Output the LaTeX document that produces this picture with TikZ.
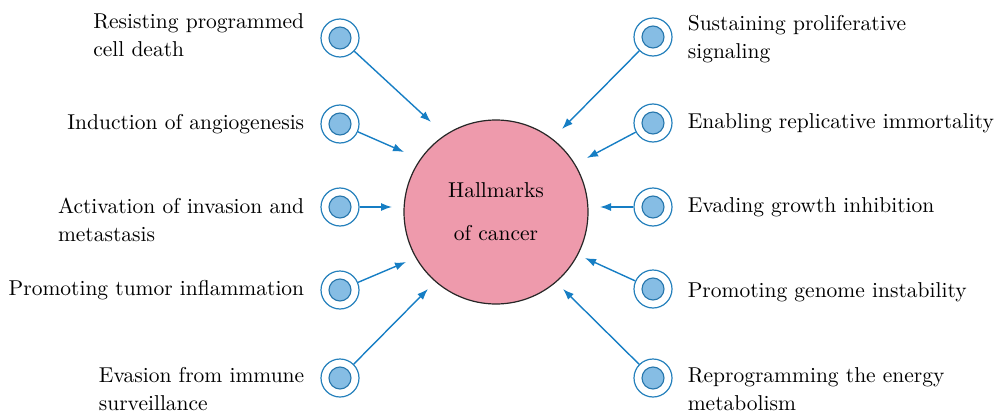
\documentclass[tikz,border=0pt]{standalone}
\usepackage{fontspec}
\setmainfont{lmroman10-regular}[Extension=.otf]
\usepackage{tikz}
\usetikzlibrary{arrows.meta,positioning}
\definecolor{hubpink}{RGB}{238,154,172}
\definecolor{ringblue}{RGB}{36,128,188}
\definecolor{dotblue}{RGB}{134,189,228}
\definecolor{dotedge}{RGB}{38,118,172}
\definecolor{arrowblue}{RGB}{22,126,196}
\tikzstyle{hub} = [draw=black!85, circle, fill=hubpink, line width=1.2pt, minimum size=184pt, align=center, font=\fontsize{21.5}{43}\selectfont]
\tikzstyle{ring} = [draw=ringblue, circle, fill=white, line width=1.2pt, minimum size=38pt, inner sep=0pt,
  path picture={\draw[dotedge, fill=dotblue, line width=1.1pt] (path picture bounding box.center) circle (11pt);}]
\tikzstyle{lbl} = [inner sep=0pt, align=left, font=\fontsize{21.5}{28}\selectfont]
\tikzstyle{line} = [draw, arrowblue, line width=1.4pt, -{Latex[length=11pt,width=8pt]}]

\begin{document}
\begin{tikzpicture}[x=1pt, y=-1pt]
    \useasboundingbox (0,0) rectangle (1004,415);
    % Centre
    \node [hub] (hub) at (496,212) {Hallmarks\\of cancer};

    % Icons on the left
    \node [ring] (l1) at (340,38) {};
    \node [ring] (l2) at (340,124) {};
    \node [ring] (l3) at (340,207) {};
    \node [ring] (l4) at (340,290) {};
    \node [ring] (l5) at (340,378) {};
    % Icons on the right
    \node [ring] (r1) at (653,37) {};
    \node [ring] (r2) at (653,123) {};
    \node [ring] (r3) at (653,207) {};
    \node [ring] (r4) at (653,289) {};
    \node [ring] (r5) at (653,378) {};

    % Labels
    \node [lbl, left=16pt of l1, yshift=3pt] (tl1) {Resisting programmed\\cell death};
    \node [lbl, left=16pt of l2] (tl2) {Induction of angiogenesis};
    \node [lbl, left=16pt of l3, yshift=-13pt] (tl3) {Activation of invasion and\\metastasis};
    \node [lbl, left=16pt of l4] (tl4) {Promoting tumor inflammation};
    \node [lbl, left=16pt of l5, yshift=-11pt] (tl5) {Evasion from immune\\surveillance};
    \node [lbl, right=15pt of r1, yshift=-2pt] (tr1) {Sustaining proliferative\\signaling};
    \node [lbl, right=15pt of r2] (tr2) {Enabling replicative immortality};
    \node [lbl, right=15pt of r3] (tr3) {Evading growth inhibition};
    \node [lbl, right=15pt of r4, yshift=-3pt] (tr4) {Promoting genome instability};
    \node [lbl, right=15pt of r5, yshift=-11pt] (tr5) {Reprogramming the energy\\metabolism};

    % Arrow heads stop short of the hub
    \coordinate (hl1) at (431,122);
    \coordinate (hl2) at (404,152);
    \coordinate (hl3) at (392,207);
    \coordinate (hl4) at (406,262);
    \coordinate (hl5) at (428,289);
    \coordinate (hr1) at (562,129);
    \coordinate (hr2) at (587,158);
    \coordinate (hr3) at (600,207);
    \coordinate (hr4) at (585,258);
    \coordinate (hr5) at (563,289);

    % Paths
    \foreach \s in {l1,l2,l3,l4,l5,r1,r2,r3,r4,r5}
        \path [line] (\s) -- (h\s);
\end{tikzpicture}
\end{document}
